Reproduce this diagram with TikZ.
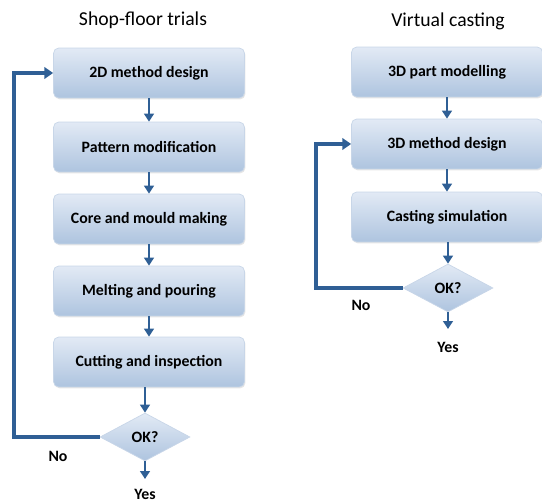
\documentclass[tikz,border=0pt]{standalone}
\usepackage{fontspec}
\setmainfont{Carlito}
\usepackage{tikz}
\usetikzlibrary{arrows.meta,shapes.geometric,shadows}

\definecolor{flowblue}{HTML}{2F5F95}
\definecolor{boxtop}{HTML}{E2EAF5}
\definecolor{boxbot}{HTML}{AEC4DF}
\definecolor{boxline}{HTML}{C8D6E8}

\tikzset{
	stepbox/.style={rectangle, rounded corners=3pt, minimum width=3.82cm, minimum height=1cm,
		top color=boxtop, bottom color=boxbot, draw=boxline, thin,
		drop shadow={opacity=0.2, shadow xshift=0.5pt, shadow yshift=-0.8pt},
		font=\fontsize{9}{11}\selectfont\bfseries},
	okbox/.style={diamond, minimum width=1.8cm, minimum height=0.96cm, inner sep=0pt,
		top color=boxtop, bottom color=boxbot, draw=boxline, thin,
		font=\fontsize{9}{11}\selectfont\bfseries},
	flow/.style={draw=flowblue, line width=1.7pt, -{Triangle[width=5.5pt,length=4.5pt]}},
	loop/.style={draw=flowblue, line width=2.3pt, -{Triangle[width=6.5pt,length=5pt]}},
	answer/.style={font=\fontsize{9}{11}\selectfont\bfseries},
	heading/.style={font=\fontsize{11.2}{13}\selectfont}
}

\begin{document}
\begin{tikzpicture}[x=0.02cm,y=-0.02cm]
			\useasboundingbox (0,0) rectangle (542,503);

			% shop-floor trials
			\node[heading] (shoptitle) at (143,20) {Shop-floor trials};
			\node[stepbox] (sdesign) at (149,73) {2D method design};
			\node[stepbox] (pattern) at (149,147) {Pattern modification};
			\node[stepbox] (mould) at (149,219) {Core and mould making};
			\node[stepbox] (melt) at (149,291) {Melting and pouring};
			\node[stepbox] (cut) at (149,362) {Cutting and inspection};
			\node[okbox] (sok) at (145,437) {OK?};
			\node[answer] (sno) at (58,456) {No};
			\coordinate (syesend) at (145,479);
			\node[answer] (syes) at (145,494) {Yes};

			\draw[flow] (sdesign) -- (pattern);
			\draw[flow] (pattern) -- (mould);
			\draw[flow] (mould) -- (melt);
			\draw[flow] (melt) -- (cut);
			\draw[flow] (cut.south -| sok.north) -- (sok);
			\draw[flow] (sok) -- (syesend);
			\draw[loop] (sok.west) -- (14,437) |- (sdesign.west);

			% virtual casting
			\node[heading] (virttitle) at (448,21) {Virtual casting};
			\node[stepbox] (part) at (447,72) {3D part modelling};
			\node[stepbox] (vdesign) at (447,144) {3D method design};
			\node[stepbox] (sim) at (447,217) {Casting simulation};
			\node[okbox] (vok) at (448,288) {OK?};
			\node[answer] (vno) at (361,305) {No};
			\coordinate (vyesend) at (448,329);
			\node[answer] (vyes) at (448,347) {Yes};

			\draw[flow] (part) -- (vdesign);
			\draw[flow] (vdesign) -- (sim);
			\draw[flow] (sim.south -| vok.north) -- (vok);
			\draw[flow] (vok) -- (vyesend);
			\draw[loop] (vok.west) -- (316,288) |- (vdesign.west);
		\end{tikzpicture}
\end{document}
